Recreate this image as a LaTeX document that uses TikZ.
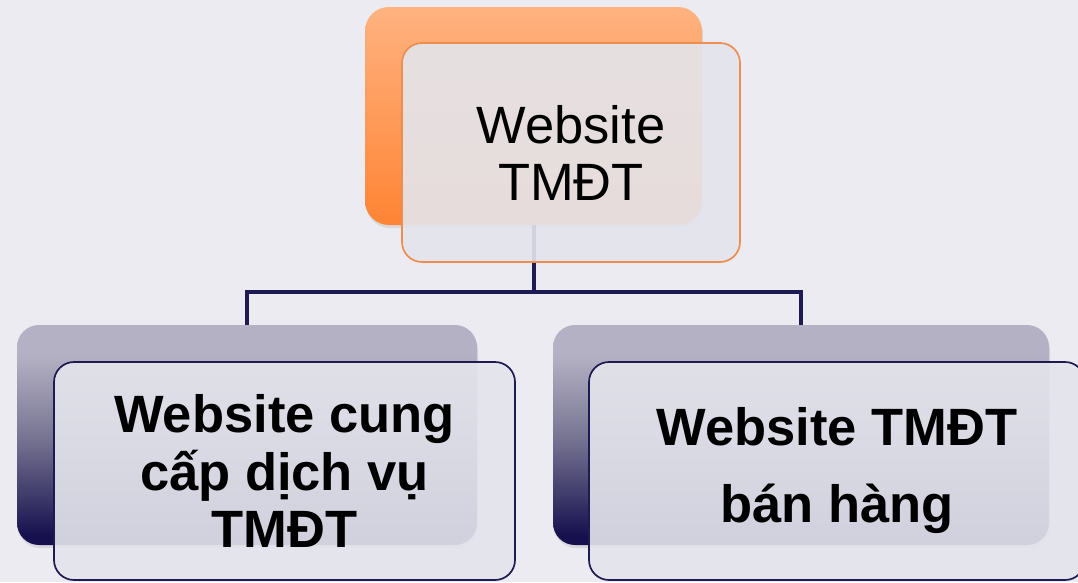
\documentclass[tikz,border=0pt]{standalone}
\usepackage{fontspec}
\setmainfont{Liberation Sans}
\usepackage{xcolor}
\usepackage{tikz}
\usetikzlibrary{positioning,shadows}
\definecolor{PageGrey}{RGB}{235,235,241}
\definecolor{NavyLine}{RGB}{30,26,82}
\definecolor{LavTop}{RGB}{180,177,196}
\definecolor{LavMid}{RGB}{118,115,145}
\definecolor{NavyDeep}{RGB}{22,17,78}
\pgfdeclareverticalshading{navyfade}{100bp}{color(0bp)=(NavyDeep); color(27bp)=(NavyDeep); color(49bp)=(LavMid); color(68bp)=(LavTop); color(100bp)=(LavTop)}

\begin{document}
\begin{tikzpicture}[x=1pt,y=-1pt]
					\definecolor{tmorange}{RGB}{238,141,80}
					\tikzset{
						backorange/.style={
							rounded corners=24pt,
							top color={rgb,255:red,255;green,178;blue,128},
							bottom color={rgb,255:red,255;green,132;blue,52},
							draw=none,
							drop shadow={opacity=0.18,shadow xshift=1pt,shadow yshift=-3pt}
						},
						backnavy/.style={
							rounded corners=22pt,
							shading=navyfade,
							draw=none,
							drop shadow={opacity=0.18,shadow xshift=1pt,shadow yshift=-3pt}
						},
						frontbox/.style={
							rounded corners=20pt,
							fill={rgb,255:red,228;green,229;blue,236},
							fill opacity=0.91,
							text opacity=1,
							line width=1.7pt,
							align=center,
							text=black
						},
						frontorange/.style={frontbox,draw=tmorange,
							font=\fontsize{52.5}{57}\selectfont},
						frontnavy/.style={frontbox,draw=NavyLine,
							font=\bfseries\fontsize{52.5}{57.5}\selectfont},
						conn/.style={draw=NavyLine,line width=4pt}
					}
					
					\useasboundingbox[fill=PageGrey] (0,0) rectangle (1078,582);
					
					\node[backorange,minimum width=337pt,minimum height=218pt] (webback) at (533.5,116) {};
					\node[backnavy,minimum width=460pt,minimum height=220pt] (leftback) at (247,435) {};
					\node[backnavy,minimum width=496pt,minimum height=220pt] (rightback) at (801,435) {};
					
					\draw[conn] (webback.south) -- ++(0,67) coordinate (fork) -| (leftback.north);
					\draw[conn] (fork) -| (rightback.north);
					
					\node[frontorange,minimum width=338pt,minimum height=219pt] (webfront)
						at ([shift={(37.5pt,-36.5pt)}]webback.center) {Website\\TMĐT};
					\node[frontnavy,minimum width=461pt,minimum height=218pt] (leftfront)
						at ([shift={(37.5pt,-36pt)}]leftback.center) {Website cung\\cấp dịch vụ\\TMĐT};
					\node[frontnavy,minimum width=496pt,minimum height=218pt,
						font=\bfseries\fontsize{52.5}{77}\selectfont] (rightfront)
						at ([shift={(36pt,-36pt)}]rightback.center) {Website TMĐT\\bán hàng};
				\end{tikzpicture}
\end{document}
